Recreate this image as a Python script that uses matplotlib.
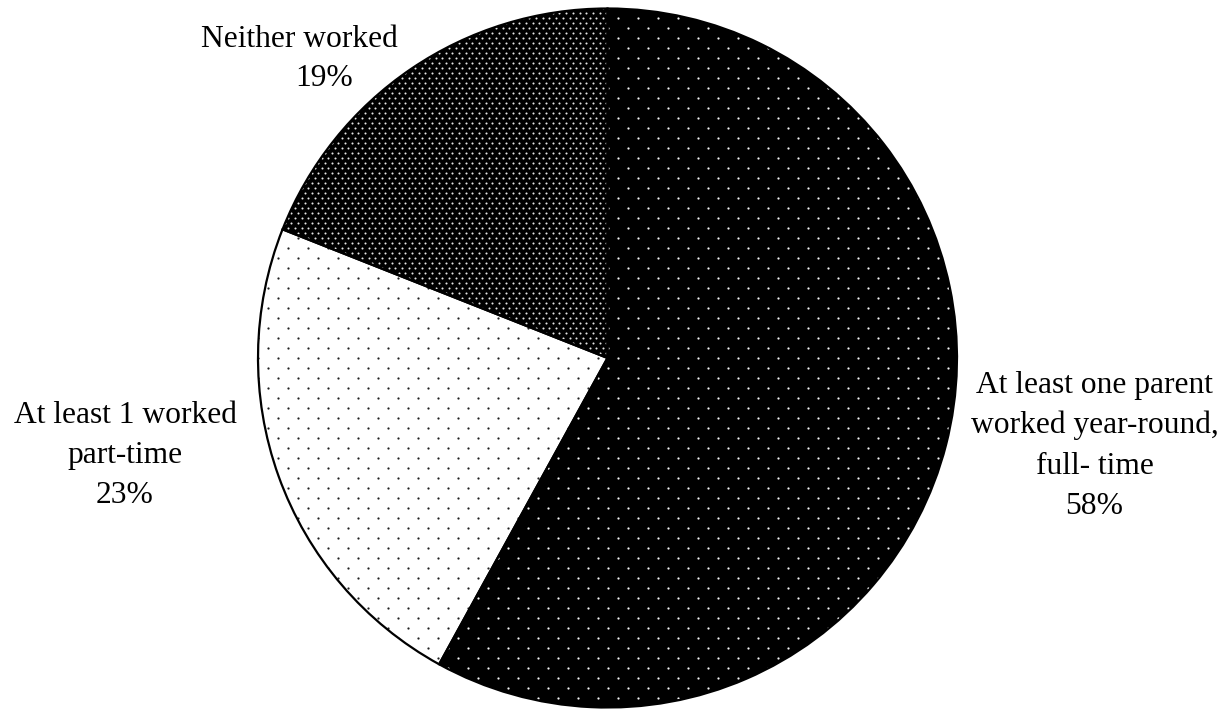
import numpy as np
import matplotlib
matplotlib.use("Agg")
import matplotlib.pyplot as plt

# DATA ##########################################

categories = [
    "At least one parent\nworked year-round,\nfull- time",
    "At least 1 worked\npart-time",
    "Neither worked",
]
shares = [58, 23, 19]

# LAYOUT (pixel coords, y from bottom) ##########

W, H = 1232, 709
cx, cy, r = 607.5, H - 358, 349.5

# (face, dot colour, dx within row, dy between rows, dot size)
patterns = [
    ("black", "#f2f2f2", 20.0, 10.0, 2.6),
    ("white", "#222222", 20.0, 10.0, 2.6),
    ("black", "#e8e8e8", 6.7, 5.0, 2.2),
]

plt.rcParams.update({"font.family": ["Liberation Serif", "DejaVu Serif"], "font.size": 22.7})

fig = plt.figure(figsize=(W / 100, H / 100), dpi=100)
ax = fig.add_axes([0, 0, 1, 1])

wedges, _ = ax.pie(
    shares,
    colors=[p[0] for p in patterns],
    startangle=90,
    counterclock=False,
    center=(cx, cy),
    radius=r,
    wedgeprops=dict(linewidth=0, zorder=1),
)

# dot textures clipped to each wedge
for w, (face, dot, dx, dy, s) in zip(wedges, patterns):
    ys = np.arange(cy - r - dy, cy + r + dy, dy)
    pts = []
    for k, y in enumerate(ys):
        xs = np.arange(cx - r - dx, cx + r + dx, dx) + (dx / 2) * (k % 2)
        pts.append(np.column_stack([xs, np.full_like(xs, y)]))
    pts = np.vstack(pts)
    sc = ax.scatter(pts[:, 0], pts[:, 1], s=s, c=dot, linewidths=0, zorder=2)
    sc.set_clip_path(w)

# outlines on top
ax.pie(
    shares,
    startangle=90,
    counterclock=False,
    center=(cx, cy),
    radius=r,
    wedgeprops=dict(fill=False, edgecolor="black", linewidth=1.6, zorder=3),
)

ax.set_xlim(0, W)
ax.set_ylim(0, H)
ax.set_aspect("auto")
ax.axis("off")

# LABELS ########################################
# va="baseline" on multi-line text pins the last line's baseline

ls = 1.5
ax.text(1094.5, H - 513.5, categories[0] + f"\n{shares[0]}%", ha="center", va="baseline",
        multialignment="center", linespacing=ls)
ax.text(125, H - 503, categories[1] + f"\n{shares[1]}%", ha="center", va="baseline",
        multialignment="center", linespacing=ls)
ax.text(299, H - 47, categories[2], ha="center", va="baseline")
ax.text(324, H - 86, f"{shares[2]}%", ha="center", va="baseline")

fig.savefig("out.png", dpi=100, facecolor="white")
